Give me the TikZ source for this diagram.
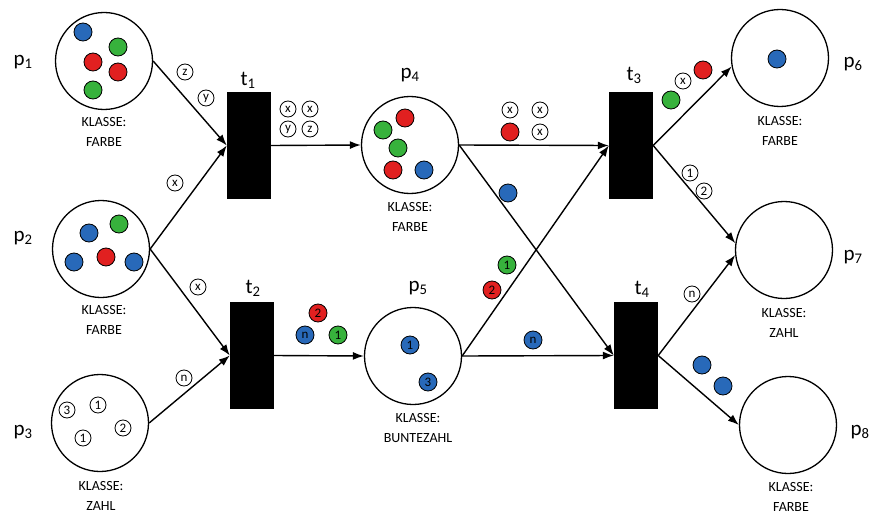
\documentclass[tikz,border=0pt]{standalone}
\usepackage{fontspec}
\setmainfont{Carlito}
\usepackage{tikz}
\usetikzlibrary{arrows.meta}

\definecolor{tokblue}{RGB}{40,105,185}
\definecolor{tokred}{RGB}{225,32,32}
\definecolor{tokgreen}{RGB}{55,178,60}

\begin{document}
\begin{tikzpicture}[x=1pt, y=-1pt,
        place/.style={circle, draw, line width=1.3pt, minimum size=97pt, inner sep=0pt},
        trans/.style={rectangle, fill=black, minimum width=44pt, minimum height=107pt, inner sep=0pt},
        tok/.style={circle, draw, line width=0.8pt, minimum size=18pt, inner sep=0pt,
            font=\fontsize{13}{13}\selectfont},
        wtok/.style={tok, fill=white, minimum size=16pt},
        btok/.style={tok, fill=tokblue},
        rtok/.style={tok, fill=tokred},
        gtok/.style={tok, fill=tokgreen},
        lbl/.style={font=\fontsize{21}{24}\selectfont},
        klasse/.style={align=center, font=\fontsize{14}{20}\selectfont},
        arc/.style={line width=1.4pt, -{Latex[length=11pt, width=8pt]}}]

    \useasboundingbox (0,0) rectangle (872,516);

    % places
    \node[place] (p1) at (104,61) {};
    \node[place] (p2) at (101,249) {};
    \node[place] (p3) at (100,423) {};
    \node[place] (p4) at (410,145) {};
    \node[place] (p5) at (413,356) {};
    \node[place] (p6) at (780,58) {};
    \node[place] (p7) at (784,250) {};
    \node[place] (p8) at (788,425) {};

    % transitions
    \node[trans] (t1) at (249,145.5) {};
    \node[trans] (t2) at (252,355.5) {};
    \node[trans] (t3) at (631,145.5) {};
    \node[trans] (t4) at (636,355.5) {};

    % names
    \node[lbl] (n1) at (23,62) {p\textsubscript{1}};
    \node[lbl] (n2) at (23,238) {p\textsubscript{2}};
    \node[lbl] (n3) at (23,432) {p\textsubscript{3}};
    \node[lbl] (n4) at (410,75) {p\textsubscript{4}};
    \node[lbl] (n5) at (418,288) {p\textsubscript{5}};
    \node[lbl] (n6) at (853,64) {p\textsubscript{6}};
    \node[lbl] (n7) at (853,257) {p\textsubscript{7}};
    \node[lbl] (n8) at (860,432) {p\textsubscript{8}};
    \node[lbl] (m1) at (248,80) {t\textsubscript{1}};
    \node[lbl] (m2) at (253,288) {t\textsubscript{2}};
    \node[lbl] (m3) at (634,75) {t\textsubscript{3}};
    \node[lbl] (m4) at (642,289) {t\textsubscript{4}};

    % classes
    \node[klasse] (k1) at (104,132) {KLASSE:\\FARBE};
    \node[klasse] (k2) at (104,320) {KLASSE:\\FARBE};
    \node[klasse] (k3) at (101,496) {KLASSE:\\ZAHL};
    \node[klasse] (k4) at (410,217) {KLASSE:\\FARBE};
    \node[klasse] (k5) at (418,428) {KLASSE:\\BUNTEZAHL};
    \node[klasse] (k6) at (780,131) {KLASSE:\\FARBE};
    \node[klasse] (k7) at (784,323) {KLASSE:\\ZAHL};
    \node[klasse] (k8) at (791,497) {KLASSE:\\FARBE};

    % marking
    \node[btok] (p1a) at (83,32) {};
    \node[gtok] (p1b) at (118,47) {};
    \node[rtok] (p1c) at (93,62) {};
    \node[rtok] (p1d) at (118,72) {};
    \node[gtok] (p1e) at (93,90) {};

    \node[btok] (p2a) at (89,233) {};
    \node[gtok] (p2b) at (119,224) {};
    \node[rtok] (p2c) at (106,257) {};
    \node[btok] (p2d) at (74,262) {};
    \node[btok] (p2e) at (134,262) {};

    \node[wtok] (p3a) at (67,410) {3};
    \node[wtok] (p3b) at (98,405) {1};
    \node[wtok] (p3c) at (123,428) {2};
    \node[wtok] (p3d) at (83,438) {1};

    \node[rtok] (p4a) at (405,118) {};
    \node[gtok] (p4b) at (383,130) {};
    \node[gtok] (p4c) at (398,148) {};
    \node[rtok] (p4d) at (393,170) {};
    \node[btok] (p4e) at (424,170) {};

    \node[btok] (p5a) at (410,345) {1};
    \node[btok] (p5b) at (428,382) {3};

    \node[btok] (p6a) at (777,59) {};

    % arcs
    \draw[arc] (p1.east) -- (t1.west);
    \draw[arc] (p2.east) -- (t1.west);
    \draw[arc] (p2.east) -- (t2.west);
    \draw[arc] (p3.east) -- (t2.west);
    \draw[arc] (t1.east) -- (p4.west);
    \draw[arc] (t2.east) -- (p5.west);
    \draw[arc] (p4.east) -- (t3.west);
    \draw[arc] (p4.east) -- (t4.west);
    \draw[arc] (p5.east) -- (t3.west);
    \draw[arc] (p5.east) -- (t4.west);
    \draw[arc] (t3.east) -- (p6.190);
    \draw[arc] (t3.east) -- (p7.172);
    \draw[arc] (t4.east) -- (p7.186);
    \draw[arc] (t4.east) -- (p8.west);

    % arc inscriptions
    \node[wtok] (a1) at (185,72) {z};
    \node[wtok] (a2) at (206,98) {y};
    \node[wtok] (a3) at (175,183) {x};
    \node[wtok] (a4) at (198,287) {x};
    \node[wtok] (a5) at (184,378) {n};
    \node[wtok] (a6) at (288,109) {x};
    \node[wtok] (a7) at (310,109) {x};
    \node[wtok] (a8) at (288,129) {y};
    \node[wtok] (a9) at (310,129) {z};
    \node[rtok] (b1) at (318,313) {2};
    \node[btok] (b2) at (305,335) {n};
    \node[gtok] (b3) at (338,335) {1};
    \node[wtok] (b4) at (510,110) {x};
    \node[wtok] (b5) at (540,110) {x};
    \node[rtok] (b6) at (510,132) {};
    \node[wtok] (b7) at (540,132) {x};
    \node[btok] (b8) at (508,193) {};
    \node[gtok] (c1) at (507,265) {1};
    \node[rtok] (c2) at (492,290) {2};
    \node[btok] (c3) at (533,340) {n};
    \node[gtok] (c4) at (671,100) {};
    \node[wtok] (c5) at (683,81) {x};
    \node[rtok] (c6) at (703,70) {};
    \node[wtok] (c7) at (690,173) {1};
    \node[wtok] (c8) at (704,191) {2};
    \node[wtok] (c9) at (692,294) {n};
    \node[btok] (d1) at (702,365) {};
    \node[btok] (d2) at (723,386) {};
\end{tikzpicture}
\end{document}
